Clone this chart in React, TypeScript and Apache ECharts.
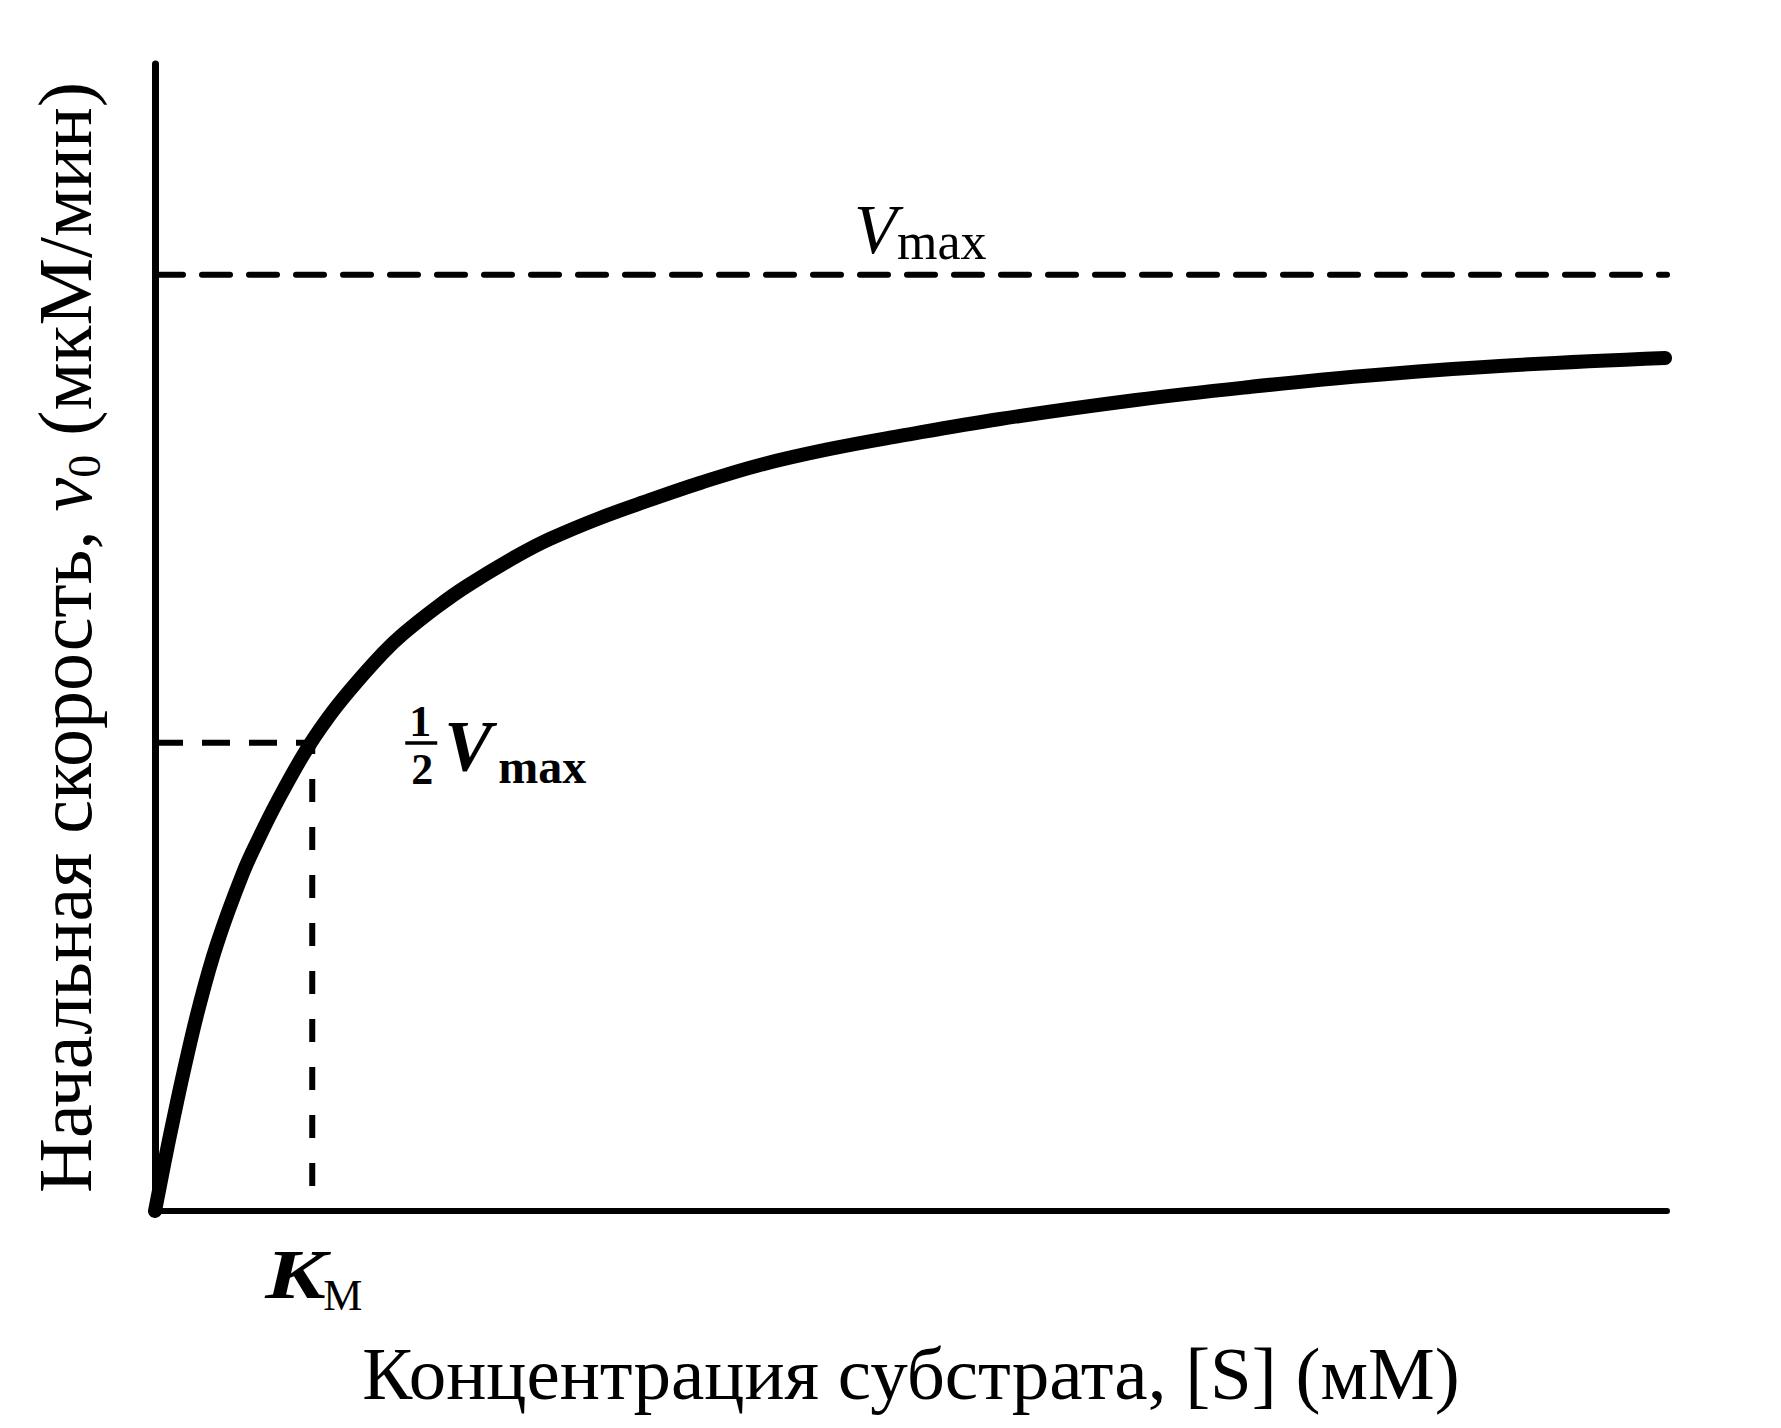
import React, { useEffect, useRef } from "react";
import * as echarts from "echarts";

// ---- data ----
const S_VALUES = [0, 0.66, 1.19, 1.92, 2.91, 4.1, 5.82, 6.94, 8.07, 9.92, 11.38, 12.9, 15.08, 16.4, 18.65, 20.63, 23.94, 26.12, 29.43, 32.74, 36.04, 40.01, 44.64, 49.27, 55.89, 64.88, 72.42, 79.89, 88.95, 99.87];
const V_VALUES = [0, 5.45, 9.61, 15.06, 21.79, 28.52, 36.1, 40.05, 43.68, 49.02, 52.54, 55.64, 59.59, 61.62, 64.51, 66.75, 69.96, 71.78, 74.02, 75.94, 77.75, 79.68, 81.39, 82.78, 84.59, 86.62, 88.01, 89.18, 90.25, 91.1];
const VMAX = 100;
const KM = 10.4;
const X_MAX = 100;
const Y_MAX = 122.5;
const X_TITLE = "Концентрация субстрата, [S] (мМ)";
const Y_TITLE_PARTS = ["Начальная скорость, ", "v", "0", " (мкМ/мин)"];
const VMAX_LABEL = ["V", "max"];
const KM_LABEL = ["K", "M"];
const HALF_LABEL = ["1", "2"];

const SERIF = '"Liberation Serif", "DejaVu Serif", serif';

function txt(text: string, x: number, y: number, size: number, opts: any = {}) {
  return {
    type: "text",
    silent: true,
    x,
    y,
    scaleX: opts.scaleX || 1,
    style: {
      text,
      x: 0,
      y: 0,
      fill: "#000",
      fontFamily: opts.family || SERIF,
      fontSize: size,
      fontStyle: opts.italic ? "italic" : "normal",
      fontWeight: opts.bold ? "bold" : "normal",
      align: opts.align || "left",
      textAlign: opts.align || "left",
      verticalAlign: "middle",
      textVerticalAlign: "middle",
    },
  };
}

export default function App() {
  const ref = useRef<HTMLDivElement>(null);

  useEffect(() => {
    document.body.style.margin = "0";
    document.body.style.overflow = "hidden";
    if (!ref.current) return;
    const chart = echarts.init(ref.current, undefined, { renderer: "svg" });
    const curve = S_VALUES.map((s, i) => [s, V_VALUES[i]]);
    const black = "#000";

    chart.setOption({
      animation: false,
      backgroundColor: "#fff",
      grid: { left: 155, top: 64, right: 114, bottom: 217 },
      xAxis: {
        type: "value",
        min: 0,
        max: X_MAX,
        name: X_TITLE,
        nameLocation: "middle",
        nameGap: 125,
        nameTextStyle: { fontFamily: SERIF, fontSize: 75, color: black },
        axisLine: { show: true, lineStyle: { color: black, width: 6 } },
        axisTick: { show: false },
        axisLabel: { show: false },
        splitLine: { show: false },
      },
      yAxis: {
        type: "value",
        min: 0,
        max: Y_MAX,
        name:
          "{n|" + Y_TITLE_PARTS[0] + "}{i|" + Y_TITLE_PARTS[1] + "}{s|" + Y_TITLE_PARTS[2] + "}{n|" + Y_TITLE_PARTS[3] + "}",
        nameLocation: "middle",
        nameRotate: 90,
        nameGap: 48,
        nameTextStyle: {
          fontFamily: SERIF,
          fontSize: 76,
          color: black,
          rich: {
            n: { fontFamily: SERIF, fontSize: 76, color: black, lineHeight: 84 },
            i: { fontFamily: SERIF, fontSize: 76, fontStyle: "italic", color: black, lineHeight: 84 },
            s: { fontFamily: SERIF, fontSize: 46, color: black, verticalAlign: "bottom", lineHeight: 62 },
          },
        },
        axisLine: { show: true, lineStyle: { color: black, width: 7 } },
        axisTick: { show: false },
        axisLabel: { show: false },
        splitLine: { show: false },
      },
      series: [
        {
          name: "Vmax",
          type: "line",
          data: [[0, VMAX], [X_MAX, VMAX]],
          symbol: "none",
          silent: true,
          lineStyle: { color: black, width: 6, type: [28, 19], cap: "round" },
          z: 2,
        },
        {
          name: "halfH",
          type: "line",
          data: [[0, VMAX / 2], [KM, VMAX / 2]],
          symbol: "none",
          silent: true,
          lineStyle: { color: black, width: 6, type: [28, 19] },
          z: 2,
        },
        {
          name: "halfV",
          type: "line",
          data: [[KM, 0], [KM, VMAX / 2]],
          symbol: "none",
          silent: true,
          lineStyle: { color: black, width: 6, type: [23, 25], dashOffset: 23 },
          z: 2,
        },
        {
          name: "v0",
          type: "line",
          data: curve,
          symbol: "none",
          smooth: 0.4,
          silent: true,
          lineStyle: { color: black, width: 14, cap: "round", join: "round" },
          z: 5,
        },
      ],
    });

    const pH = chart.convertToPixel({ gridIndex: 0 }, [KM, VMAX / 2]) as number[];
    const pV = chart.convertToPixel({ gridIndex: 0 }, [0, VMAX]) as number[];
    const pK = chart.convertToPixel({ gridIndex: 0 }, [KM, 0]) as number[];

    chart.setOption({
      graphic: [
        // Vmax label
        txt(VMAX_LABEL[0], pV[0] + 699, pV[1] - 45, 70, { italic: true }),
        txt(VMAX_LABEL[1], pV[0] + 742, pV[1] - 33, 52),
        // 1/2 Vmax label
        txt(HALF_LABEL[0], pH[0] + 108, pH[1] - 21, 44, { bold: true, align: "center" }),
        {
          type: "rect",
          silent: true,
          shape: { x: pH[0] + 93, y: pH[1] - 1.5, width: 32, height: 3.5 },
          style: { fill: "#000" },
        },
        txt(HALF_LABEL[1], pH[0] + 110, pH[1] + 27, 44, { bold: true, align: "center" }),
        txt(VMAX_LABEL[0], pH[0] + 132, pH[1] + 3.5, 72, { bold: true, italic: true }),
        txt(VMAX_LABEL[1], pH[0] + 186, pH[1] + 24, 48, { bold: true }),
        // KM label
        txt(KM_LABEL[0], pK[0] - 47, pK[1] + 64, 70, { bold: true, italic: true, scaleX: 1.3 }),
        txt(KM_LABEL[1], pK[0] + 11, pK[1] + 84, 44),
      ],
    });

    return () => chart.dispose();
  }, []);

  return <div ref={ref} style={{ width: 1781, height: 1428 }} />;
}
